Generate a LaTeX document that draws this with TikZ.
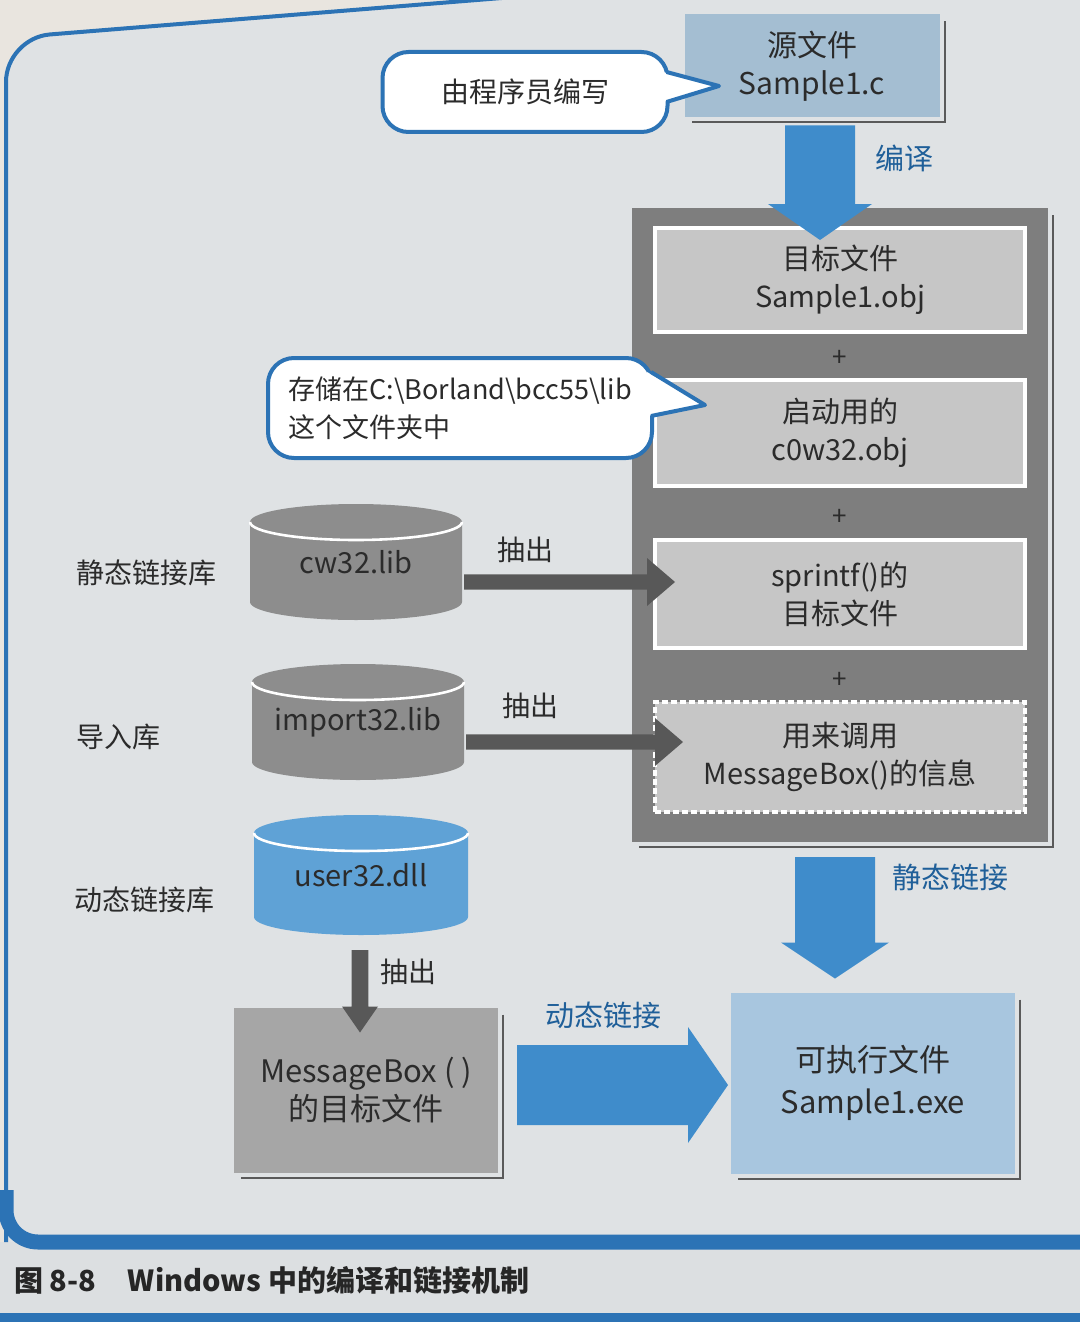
\documentclass[tikz,border=0pt]{standalone}
\usepackage{fontspec}
\setmainfont{Noto Sans CJK SC}
\usetikzlibrary{calc}

\definecolor{outerbg}{HTML}{E9E5DF}
\definecolor{panelbg}{HTML}{DFE2E4}
\definecolor{capbg}{HTML}{DCDFE1}
\definecolor{panelblue}{HTML}{2C73B5}
\definecolor{arrowblue}{HTML}{3F8CCB}
\definecolor{labelblue}{HTML}{1F5F99}
\definecolor{srcfill}{HTML}{A4BED2}
\definecolor{exefill}{HTML}{A8C6DF}
\definecolor{bigfill}{HTML}{7E7E7E}
\definecolor{innerfill}{HTML}{C6C6C6}
\definecolor{cylgray}{HTML}{8D8D8D}
\definecolor{cylblue}{HTML}{5FA2D6}
\definecolor{msgfill}{HTML}{A6A6A6}
\definecolor{darkarrow}{HTML}{585858}
\definecolor{txt}{HTML}{2B2B2B}
\definecolor{shadowln}{HTML}{5A5A5A}

\newcommand\fsz[1]{\fontsize{#1}{19}\selectfont}

% fat arrow: #1 colour, #2 start coordinate, #3 tip coordinate,
% #4 half shaft width, #5 half head width, #6 head length
\newcommand\fatarrow[6]{%
  \coordinate (fabase) at ($(#3)!#6!(#2)$);
  \fill[#1] ($(#2)!#4!90:(#3)$) -- ($(fabase)!#4!90:(#3)$) -- ($(fabase)!#5!90:(#3)$)
    -- (#3) -- ($(fabase)!#5!-90:(#3)$) -- ($(fabase)!#4!-90:(#3)$)
    -- ($(#2)!#4!-90:(#3)$) -- cycle;}

% cylinder around a node: #1 node, #2 colour, #3 x radius, #4 y radius
\newcommand\cylinderat[4]{%
  \fill[#2] (#1.north west) -- (#1.south west)
    arc[start angle=180, end angle=360, x radius=#3, y radius=#4]
    -- (#1.north east)
    arc[start angle=0, end angle=180, x radius=#3, y radius=#4] -- cycle;
  \draw[white, line width=1.3pt] (#1.north west)
    arc[start angle=180, end angle=360, x radius=#3, y radius=#4];}

% shadow line at right and bottom of a box
\newcommand\boxshadow[1]{%
  \draw[shadowln, line width=1pt] ($(#1.north east)+(5,7)$) -- ($(#1.south east)+(5,5)$)
    -- ($(#1.south west)+(7,5)$);}

% speech bubble tail: #1 node, #2 upper y offset, #3 lower y offset, #4 tip
\newcommand\bubbletail[4]{%
  \fill[white] ($(#1.east)+(-5,#2)$) -- (#4) -- ($(#1.east)+(-5,#3)$) -- cycle;
  \draw[panelblue, line width=2pt, line join=round] ($(#1.east)+(-1,#2)$) -- (#4) -- ($(#1.east)+(-1,#3)$);}

\tikzset{
  base/.style={inner sep=0pt, outer sep=0pt, text=txt, align=center, font=\fsz{14}},
  srcbox/.style={base, fill=srcfill, minimum width=127.5pt, minimum height=51.5pt, font=\fsz{15}},
  bigbox/.style={base, fill=bigfill, minimum width=208pt, minimum height=317pt},
  inbox/.style={base, fill=innerfill, draw=white, line width=1.6pt,
    minimum width=185pt, minimum height=52pt, font=\fsz{14.5}},
  infobox/.style={inbox, dash pattern=on 3pt off 1.5pt},
  plussign/.style={base, font=\fsz{13}},
  bubble/.style={base, fill=white, draw=panelblue, line width=2pt, rounded corners=13pt},
  cylbox/.style={base, minimum width=106pt},
  cyltext/.style={base, font=\fsz{14.5}},
  sidelabel/.style={base, anchor=west, font=\fsz{14}},
  pulllabel/.style={base, font=\fsz{14}},
  bluelabel/.style={base, text=labelblue, font=\fsz{14.5}},
}

\begin{document}
\begin{tikzpicture}[x=0.5pt, y=-0.5pt]
\useasboundingbox (0,0) rectangle (1080,1322);
\clip (0,0) rectangle (1080,1322);

% page and panel
\fill[outerbg] (0,0) rectangle (1080,1322);
\fill[panelbg, rounded corners=22pt] (6,1300) -- (6,38) -- (700,-18) -- (1100,-18) -- (1100,1300) -- cycle;
\fill[capbg] (0,1242) rectangle (1080,1322);
\draw[panelblue, line width=2pt, rounded corners=22pt] (6,1242) -- (6,38) -- (700,-18);
\draw[panelblue, line width=7.5pt, rounded corners=16pt] (6,1190) -- (6,1242) -- (1090,1242);
\fill[panelblue] (0,1313) rectangle (1080,1322);

% source file
\node[srcbox] (src) at (812,66) {源文件\\Sample1.c};
\boxshadow{src}

% bubble 1
\node[bubble, minimum width=142.5pt, minimum height=40pt] (bub1) at (525,92) {由程序员编写};
\coordinate (t1) at (719,86);
\bubbletail{bub1}{-20}{10}{t1}

% big box with object files
\node[bigbox] (big) at (840,525) {};
\boxshadow{big}
\node[inbox] (obj1) at (840,280) {目标文件\\Sample1.obj};
\node[plussign] (p1) at (840,358) {+};
\node[inbox, minimum height=53pt] (c0w) at (840,433) {启动用的\\c0w32.obj};
\node[plussign] (p2) at (840,517) {+};
\node[inbox, minimum height=54pt] (spr) at (840,594) {sprintf()的\\目标文件};
\node[plussign] (p3) at (840,680) {+};
\node[infobox, minimum height=55pt] (info) at (840,757) {用来调用\\MessageBox()的信息};

% compile arrow
\coordinate (c1s) at ($(src.south)+(8,8)$);
\coordinate (c1e) at ($(obj1.north)+(-20,12)$);
\fatarrow{arrowblue}{c1s}{c1e}{17.5pt}{26pt}{18pt}
\node[bluelabel] (lcompile) at (904,158) {编译};

% bubble 2
\node[bubble, minimum width=192pt, minimum height=50pt, align=left, font=\fsz{13.5}] (bub2) at (460,408)
  {存储在C:\textbackslash Borland\textbackslash bcc55\textbackslash lib\\这个文件夹中};
\coordinate (t2) at (705,405);
\bubbletail{bub2}{-36}{8}{t2}

% libraries
\node[cylbox, minimum height=40pt] (cw) at (356,562) {};
\cylinderat{cw}{cylgray}{53pt}{9pt}
\node[cyltext] (cwt) at (cw.center) {cw32.lib};

\node[cylbox, minimum height=40pt] (imp) at (358,722) {};
\cylinderat{imp}{cylgray}{53pt}{9pt}
\node[cyltext] (impt) at (imp.center) {import32.lib};

\node[cylbox, minimum width=107pt, minimum height=42pt] (dll) at (361,875) {};
\cylinderat{dll}{cylblue}{53.5pt}{9pt}
\node[cyltext] (dllt) at (dll.center) {user32.dll};

\node[sidelabel] (ls) at (76,573) {静态链接库};
\node[sidelabel] (li) at (76,737) {导入库};
\node[sidelabel] (ld) at (74,900) {动态链接库};

% extraction arrows
\coordinate (d1s) at ($(cw.east)+(2,20)$);
\coordinate (d1e) at ($(spr.west)+(20,-12)$);
\fatarrow{darkarrow}{d1s}{d1e}{3.8pt}{12pt}{14pt}
\node[pulllabel] (x1) at (525,550) {抽出};

\coordinate (d2s) at ($(imp.east)+(2,20)$);
\coordinate (d2e) at ($(info.west)+(28,-15)$);
\fatarrow{darkarrow}{d2s}{d2e}{3.8pt}{12pt}{14pt}
\node[pulllabel] (x2) at (530,706) {抽出};

% MessageBox object file
\node[base, fill=msgfill, minimum width=132pt, minimum height=82.5pt, font=\fsz{15.5}] (msgobj) at (366,1090)
  {MessageBox ( )\\的目标文件};
\boxshadow{msgobj}

\coordinate (d3s) at ($(dll.south)+(-1,33)$);
\coordinate (d3e) at ($(msgobj.north)+(-6,25)$);
\fatarrow{darkarrow}{d3s}{d3e}{4.2pt}{9pt}{13pt}
\node[pulllabel] (x3) at (408,972) {抽出};

% executable
\node[base, fill=exefill, minimum width=142pt, minimum height=90.5pt, font=\fontsize{15.5}{21}\selectfont] (exe) at (873,1083)
  {可执行文件\\Sample1.exe};
\boxshadow{exe}

\coordinate (c2s) at ($(big.south)+(-5,15)$);
\coordinate (c2e) at ($(exe.north)+(-38,-14)$);
\fatarrow{arrowblue}{c2s}{c2e}{20pt}{27pt}{18pt}
\node[bluelabel] (lstatic) at (950,877) {静态链接};

\coordinate (c3s) at ($(msgobj.east)+(19,-5)$);
\coordinate (c3e) at ($(exe.west)+(-3,2)$);
\fatarrow{arrowblue}{c3s}{c3e}{20pt}{29pt}{20pt}
\node[bluelabel] (ldynamic) at (603,1015) {动态链接};

% caption
\node[base, anchor=west, font=\bfseries\fsz{14.5}, text=black!85] (cap) at (14,1280)
  {图 8-8\hspace{1.1em}Windows 中的编译和链接机制};
\end{tikzpicture}
\end{document}
